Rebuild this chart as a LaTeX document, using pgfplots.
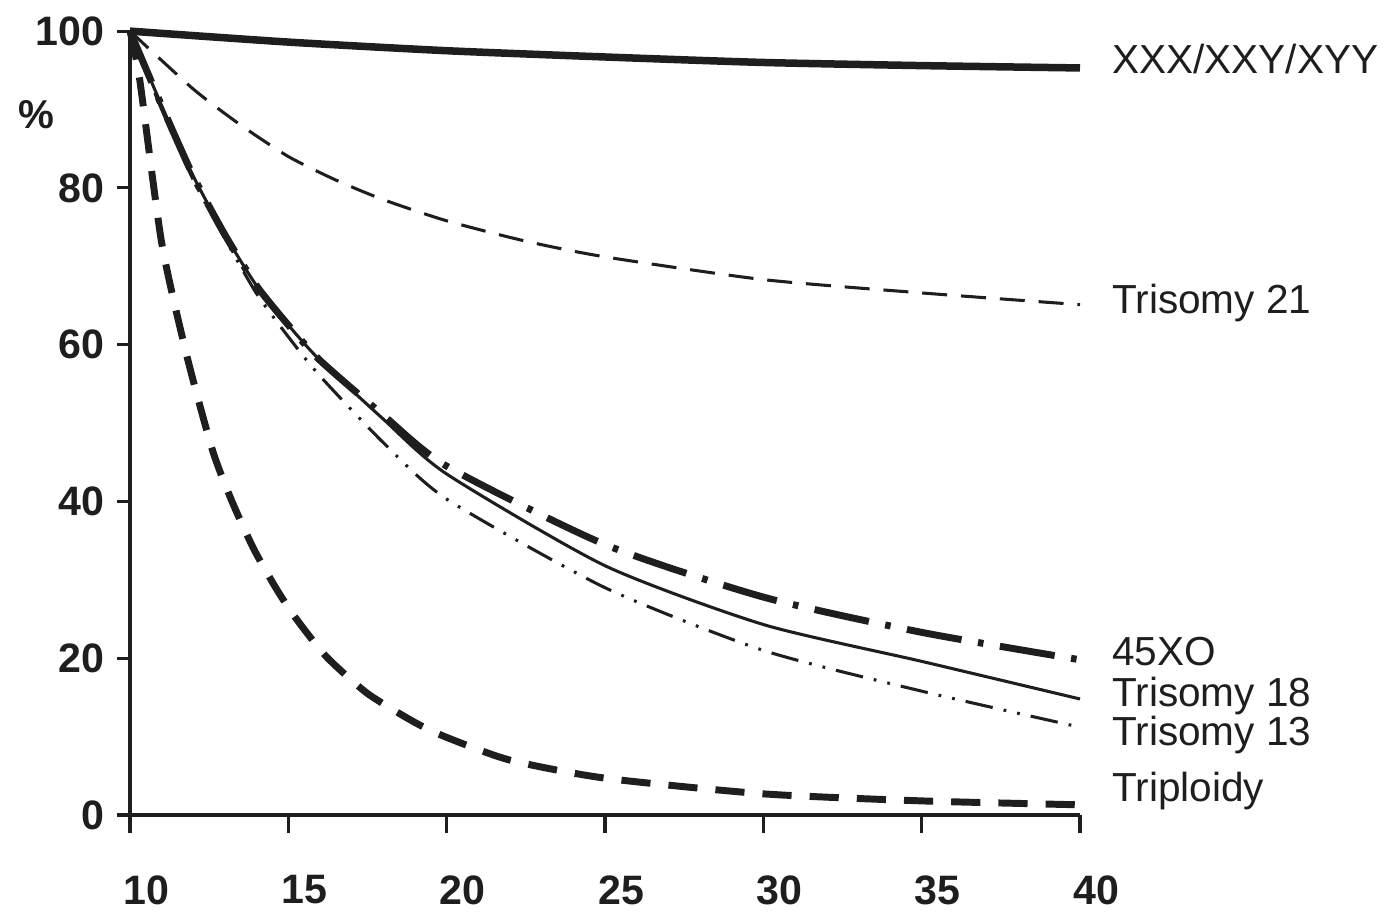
\documentclass[border=0pt]{standalone}
\usepackage{fontspec}
\setmainfont{Liberation Sans}
\usepackage{pgfplots}
\pgfplotsset{compat=1.18}
\definecolor{ink}{HTML}{1E1E1E}
\begin{document}
\begin{tikzpicture}
\begin{axis}[
  scale only axis, width=342pt, height=282.2pt,
  at={(0,0)}, anchor=south west,
  xmin=10, xmax=40, ymin=0, ymax=100,
  axis x line*=bottom, axis y line*=left,
  axis line style={line width=1.1pt, ink, -},
  xtick={10,15,...,40}, ytick={0,20,...,100},
  tick align=outside,
  major tick length=4.7pt,
  xtick style={/pgfplots/major tick length=6.5pt},
  tick style={line width=1.1pt, ink},
  clip=false,
  ticklabel style={font=\bfseries\fontsize{14.8}{17}\selectfont, text=ink},
  /pgf/number format/assume math mode=true,
  xticklabel style={xshift=5.8pt, yshift=-13.5pt},
  yticklabel style={xshift=-1pt},
  every axis plot/.append style={ink, line join=round, smooth, tension=0.4},
]
% XXX/XXY/XYY
\addplot[line width=2.7pt] coordinates {(10,100) (15,98.6) (20,97.5) (25,96.7) (30,96.0) (35,95.6) (40,95.3)};
% Trisomy 21
\addplot[line width=1.1pt, dash pattern=on 9pt off 5pt] coordinates {(10,100) (12,92.6) (13.5,88) (15,84) (16.5,81) (18,78.5) (20,75.8) (22.5,73.2) (25,71.2) (30,68.3) (35,66.6) (40,65.1)};
% Trisomy 18
\addplot[line width=1.1pt] coordinates {(10,100) (11,90.5) (12,81.5) (13,74) (14,67.5) (15,62.5) (16,58) (18,50.5) (20,43.5) (25,31.8) (30,24.3) (35,19.6) (40,14.8)};
% 45XO
\addplot[line width=2.5pt, dash pattern=on 20pt off 6pt on 2pt off 6pt] coordinates {(10,100) (11,90.5) (12,81.5) (13,74) (14,67.5) (15,62.5) (16,58) (18,51) (20,44.5) (25,34.5) (30,27.8) (35,23.3) (40,19.8)};
% Trisomy 13
\addplot[line width=1.1pt, dash pattern=on 10pt off 4pt on 1pt off 4pt on 1pt off 4pt] coordinates {(10,100) (11,90) (12,81) (13,73.5) (14,66.5) (15,61) (16,56) (18,47.5) (20,40.3) (25,29) (30,21) (35,15.8) (40,11.2)};
% Triploidy
\addplot[line width=2.5pt, dash pattern=on 10.5pt off 6.5pt] coordinates {(10,100) (10.3,94) (11,73) (11.8,58.5) (12.6,46.6) (13.2,40.2) (13.9,34) (14.6,29) (15.2,25.3) (16.2,20.2) (17.5,15.5) (19,11.8) (20,9.9) (22,7) (25,4.7) (30,2.7) (35,1.8) (40,1.3)};

\begin{scope}[every node/.style={anchor=base west, inner sep=0pt, font=\fontsize{14.6}{17}\selectfont, text=ink}]
\node at (axis cs:41.0,94.6) {XXX/XXY/XYY};
\node at (axis cs:41.0,64.0) {Trisomy 21};
\node at (axis cs:41.0,19.1) {45XO};
\node at (axis cs:41.0,13.9) {Trisomy 18};
\node at (axis cs:41.0,8.9) {Trisomy 13};
\node at (axis cs:41.0,1.66) {Triploidy};
\end{scope}
\node[font=\bfseries\fontsize{14.5}{16}\selectfont, text=ink] at (axis cs:7.06,89.3) {\%};
\end{axis}
\pgfresetboundingbox
\path[use as bounding box] (-46.8pt,-36.36pt) rectangle (451.44pt,293.4pt);
\end{tikzpicture}
\end{document}
